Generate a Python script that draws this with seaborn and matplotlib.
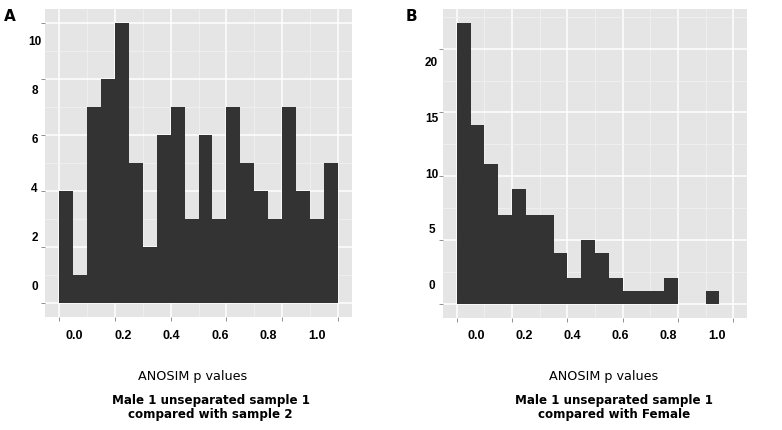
import matplotlib
matplotlib.use("Agg", force = True)

import numpy as np
import seaborn as sns
import matplotlib.pyplot as plt

# ---- data ----
bin_edges = [0.00, 0.05, 0.10, 0.15, 0.20, 0.25, 0.30, 0.35, 0.40, 0.45, 0.50,
             0.55, 0.60, 0.65, 0.70, 0.75, 0.80, 0.85, 0.90, 0.95, 1.00]
counts_a = [4, 1, 7, 8, 10, 5, 2, 6, 7, 3, 6, 3, 7, 5, 4, 3, 7, 4, 3, 5]
counts_b = [22, 14, 11, 7, 9, 7, 7, 4, 2, 5, 4, 2, 1, 1, 1, 2, 0, 0, 1, 0]

x_ticks = [0.0, 0.2, 0.4, 0.6, 0.8, 1.0]
x_minor = [0.1, 0.3, 0.5, 0.7, 0.9]
x_tick_labels = ["0.0", "0.2", "0.4", "0.6", "0.8", "1.0"]
y_ticks_a = [0, 2, 4, 6, 8, 10]
y_minor_a = [1, 3, 5, 7, 9]
y_ticks_b = [0, 5, 10, 15, 20]
y_minor_b = [2.5, 7.5, 12.5, 17.5, 22.5]

x_label = "ANOSIM p values"
title_a = ["Male 1 unseparated sample 1", "compared with sample 2"]
title_b = ["Male 1 unseparated sample 1", "compared with Female"]
tags = ["A", "B"]

sns.set_theme(style = "white")
plt.rcParams['font.family'] = ['DejaVu Sans']
plt.rcParams['text.color'] = 'black'

W, H = 782, 431
fig = plt.figure(figsize = (W / 100, H / 100), dpi = 100)

def px_box(l, t, r, b):
    return [l / W, 1 - b / H, (r - l) / W, (b - t) / H]

tick_font = ['Liberation Sans Narrow', 'Liberation Sans', 'DejaVu Sans']
bar_color = '#333333'

def draw_panel(box, counts, ylim, y_ticks, y_minor, xl_shift, xl_scale, xl_y,
               yl_shift, yl_scale, yl_x):
    ax = fig.add_axes(px_box(*box))
    edges = np.array(bin_edges)
    centers = (edges[:-1] + edges[1:]) / 2
    # one filled step polygon -> no seams between neighbouring bins
    sns.histplot(x = centers, weights = counts, bins = bin_edges, ax = ax,
                 element = 'step', fill = True, color = bar_color, alpha = 1,
                 edgecolor = 'none', linewidth = 0)
    ax.set_facecolor('#E5E5E5')
    for s in ax.spines.values():
        s.set_visible(False)
    ax.set_xlim(-0.05, 1.05)
    ax.set_ylim(*ylim)
    ax.set_xticks(x_ticks)
    ax.set_xticks(x_minor, minor = True)
    ax.set_yticks(y_ticks)
    ax.set_yticks(y_minor, minor = True)
    ax.grid(True, which = 'major', color = 'white', linewidth = 1.1)
    ax.grid(True, which = 'minor', color = '#F2F2F2', linewidth = 0.5)
    ax.set_axisbelow(True)
    ax.tick_params(which = 'major', length = 3, width = 0.6, color = '#7F7F7F',
                   labelbottom = False, labelleft = False, bottom = True, left = True)
    ax.tick_params(which = 'minor', length = 0)
    ax.set_xlabel('')
    ax.set_ylabel('')

    # tick labels sit slightly off their ticks in the reference
    xt = ax.get_xaxis_transform()
    for v, lbl in zip(x_ticks, x_tick_labels):
        ax.text(xl_shift + xl_scale * v, xl_y, lbl, transform = xt, ha = 'center',
                va = 'center', fontsize = 9, fontweight = 'bold', family = tick_font)
    yt = ax.get_yaxis_transform()
    for v in y_ticks:
        ax.text(yl_x, yl_shift + yl_scale * v, str(v), transform = yt, ha = 'center',
                va = 'center', fontsize = 8.5, fontweight = 'bold', family = tick_font)
    return ax

ax_a = draw_panel((45, 10, 352, 318), counts_a, (-0.5, 10.5), y_ticks_a, y_minor_a,
                  0.0565, 0.867, -0.058, 0.605, 0.875, -0.034)
ax_b = draw_panel((443, 10, 747, 319), counts_b, (-1.1, 23.1), y_ticks_b, y_minor_b,
                  0.0687, 0.871, -0.055, 1.48, 0.872, -0.038)

def ftext(x, y, s, **kw):
    fig.text(x / W, 1 - y / H, s, **kw)

# panel tags
ftext(4, 21, tags[0], fontsize = 11, fontweight = 'bold', ha = 'left', va = 'baseline')
ftext(406, 21, tags[1], fontsize = 11, fontweight = 'bold', ha = 'left', va = 'baseline')

# axis titles and captions
ftext(192.5, 380, x_label, fontsize = 9.2, ha = 'center', va = 'baseline')
ftext(603.5, 380, x_label, fontsize = 9.2, ha = 'center', va = 'baseline')
for (cx, lines) in [(210.5, title_a), (614, title_b)]:
    ftext(cx, 404, lines[0], fontsize = 8.6, fontweight = 'bold', ha = 'center', va = 'baseline')
    ftext(cx, 418, lines[1], fontsize = 8.6, fontweight = 'bold', ha = 'center', va = 'baseline')

fig.savefig("out.png", dpi = 100)
plt.close()
